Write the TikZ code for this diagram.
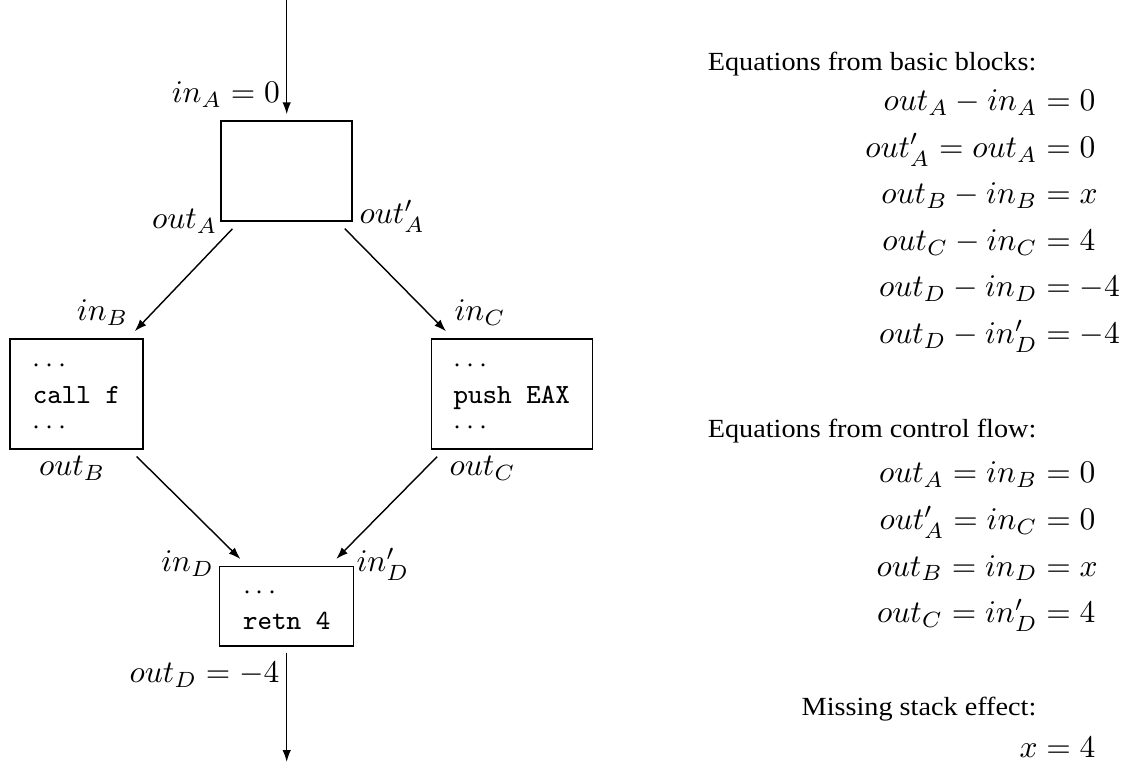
\documentclass[tikz,border=0pt]{standalone}
\usepackage[no-math]{fontspec}
\newfontfamily\headfont{Liberation Serif}[FakeStretch=1.08]
\usetikzlibrary{arrows.meta,calc}

% one row of an aligned system: left part ends at the node's west anchor
\newcommand\eqrow[2]{\makebox[0pt][r]{$#1$}${}=#2$}
% first and last line of a block listing (dots on the math axis)
\newcommand\firstdots[1]{\rule{0pt}{#1}\smash{$\cdots$}}
\newcommand\lastdots{\smash{$\cdots$}}

\begin{document}
\begin{tikzpicture}[x=0.3175pt,y=-0.3175pt,
  blk/.style={draw, line width=0.45pt, inner xsep=7.1pt, inner ysep=0pt,
    align=left, font=\fontsize{8.8}{9.75}\selectfont\ttfamily},
  flow/.style={-{Latex[length=3.8pt,width=2.7pt]}, line width=0.45pt},
  lbl/.style={inner sep=0pt},
  head/.style={inner sep=0pt, anchor=base east,
    font=\headfont\fontsize{8.3}{9.6}\selectfont},
  eqn/.style={inner sep=0pt, anchor=base west}]

\useasboundingbox (0,0) rectangle (1130,765);

% basic blocks
\node[blk, minimum width={131*0.3175pt}, minimum height={100*0.3175pt}]
  (A) at (286.7,171) {};
\node[blk, minimum width={133*0.3175pt}, minimum height={110*0.3175pt}]
  (B) at (76.5,394) {\firstdots{6pt}\\call f\\\lastdots};
\node[blk, minimum width={133*0.3175pt}, minimum height={110*0.3175pt}, anchor=west]
  (C) at (430.5,394) {\firstdots{6pt}\\push EAX\\\lastdots};
\node[blk, minimum width={134*0.3175pt}, minimum height={79.3*0.3175pt}]
  (D) at (286.7,606.3) {\firstdots{5.3pt}\\retn 4};

% entry and exit of the procedure
\coordinate (src) at (286.7,0);
\coordinate (snk) at (286.7,762);

% control flow edges
\draw[flow, shorten >=1.9pt] (src) -- (A.north);
\draw[flow, shorten <=3.1pt, shorten >=3.1pt]
  ($(A.south west)+(18.7,0)$) -- ($(B.north east)+(-15.7,0)$);
\draw[flow, shorten <=3.1pt, shorten >=3.1pt]
  ($(A.south east)+(-15,0)$) -- ($(C.north west)+(22.4,0)$);
\draw[flow, shorten <=3.1pt, shorten >=3.1pt]
  ($(B.south east)+(-14,0)$) -- ($(D.north west)+(28.4,0)$);
\draw[flow, shorten <=3.1pt, shorten >=3.1pt]
  ($(C.south west)+(13.5,0)$) -- ($(D.north east)+(-25,0)$);
\draw[flow, shorten <=1.9pt] (D.south) -- (snk);

% stack height labels
\node[lbl, anchor=base east] (inA) at (280.5,103) {$in_A = 0$};
\node[lbl, anchor=base east] (oA) at (218,229) {$out_A$};
\node[lbl, anchor=base west] (oA2) at (359,224) {$out'_A$};
\node[lbl, anchor=base east] (iB) at (129,321) {$in_B$};
\node[lbl, anchor=base west] (iC) at (454,321) {$in_C$};
\node[lbl, anchor=base east] (oB) at (106,476) {$out_B$};
\node[lbl, anchor=base west] (oC) at (449,476) {$out_C$};
\node[lbl, anchor=base east] (iD) at (214.5,571.5) {$in_D$};
\node[lbl, anchor=base west] (iD2) at (356,571.5) {$in'_D$};
\node[lbl, anchor=base east] (oD) at (280,683) {$out_D = -4$};

% equations
\node[head] (h1) at (1037,71) {Equations from basic blocks:};
\node[eqn] (e1) at (1037,111) {\eqrow{out_A - in_A}{0}};
\node[eqn] (e2) at (1037,157.4) {\eqrow{out'_A = out_A}{0}};
\node[eqn] (e3) at (1037,203.9) {\eqrow{out_B - in_B}{x}};
\node[eqn] (e4) at (1037,250.4) {\eqrow{out_C - in_C}{4}};
\node[eqn] (e5) at (1037,296.9) {\eqrow{out_D - in_D}{-4}};
\node[eqn] (e6) at (1037,343.5) {\eqrow{out_D - in'_D}{-4}};

\node[head] (h2) at (1037,438) {Equations from control flow:};
\node[eqn] (f1) at (1037,483) {\eqrow{out_A = in_B}{0}};
\node[eqn] (f2) at (1037,529.6) {\eqrow{out'_A = in_C}{0}};
\node[eqn] (f3) at (1037,576.2) {\eqrow{out_B = in_D}{x}};
\node[eqn] (f4) at (1037,623) {\eqrow{out_C = in'_D}{4}};

\node[head] (h3) at (1037,716) {Missing stack effect:};
\node[eqn] (g1) at (1037,758) {\eqrow{x}{4}};
\end{tikzpicture}
\end{document}
